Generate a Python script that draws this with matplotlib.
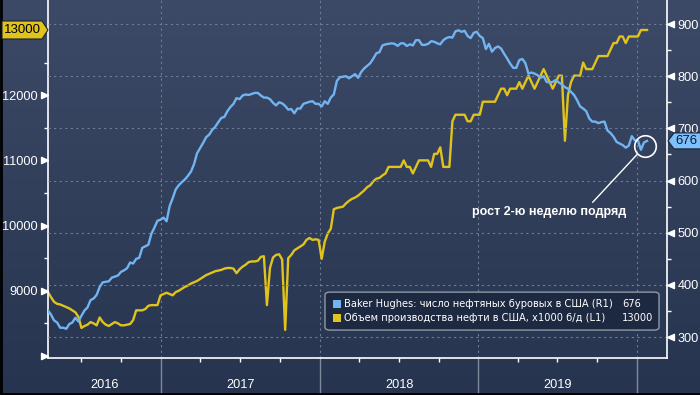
import matplotlib.pyplot as plt
import matplotlib.dates as mdates
import matplotlib.patches as mpatches
import matplotlib.transforms as mtransforms
from matplotlib.colors import LinearSegmentedColormap
from matplotlib.lines import Line2D
from matplotlib.ticker import MultipleLocator
import numpy as np
import pandas as pd

# weekly data, first week = start
start = '2016-04-15'
x_end = '2020-03-10'

# Baker Hughes: US oil rigs (right axis)
rigs = [351, 343, 332, 328, 318, 318, 316, 325, 328, 337, 330, 341, 351, 357, 371, 374,
        381, 396, 405, 406, 407, 414, 416, 418, 425, 428, 432, 443, 441, 450, 452, 471,
        474, 477, 498, 510, 523, 525,
        529, 522, 551, 566, 583, 591, 597, 602, 609, 617, 631, 652, 662, 672, 683, 688,
        697, 703, 712, 720, 722, 733, 741, 747, 758, 756, 763, 765, 764, 766, 768, 768,
        763, 759, 759, 756, 749, 744, 750, 748, 743, 736, 737, 729, 738, 738, 747, 749,
        751, 752, 747, 747,
        742, 752, 747, 759, 765, 791, 798, 799, 800, 796, 800, 804, 797, 808, 815, 820,
        825, 834, 844, 846, 859, 861, 862, 863, 862, 858, 863, 863, 858, 861, 859, 869,
        869, 860, 860, 862, 867, 866, 863, 861, 869, 873, 875, 874, 886, 888, 885, 887,
        877, 873, 883, 885,
        877, 873, 852, 862, 847, 854, 857, 853, 843, 834, 824, 816, 816, 831, 833, 825,
        805, 807, 805, 802, 797, 800, 789, 788, 789, 793, 788, 784, 779, 776, 770, 764,
        754, 742, 738, 733, 719, 713, 713, 710, 712, 713, 696, 691, 684, 674, 671, 668,
        663, 667, 685, 677,
        677, 659, 673, 676]

# US crude output, x1000 b/d (left axis)
output = [8980, 8900, 8830, 8800, 8790, 8770, 8750, 8730, 8700, 8670, 8600, 8430, 8460,
          8480, 8520, 8500, 8470, 8590, 8520, 8480, 8460, 8490, 8520, 8500, 8470, 8470,
          8480, 8490, 8550, 8700, 8700, 8700, 8720, 8770, 8780, 8780, 8780, 8930, 8950,
          8970, 8950, 8930, 8980, 9000, 9030, 9060, 9080, 9110, 9130, 9150, 9180, 9210,
          9240, 9260, 9280, 9300, 9310, 9320, 9340, 9350, 9350, 9340, 9270, 9330, 9370,
          9400, 9440, 9450, 9450, 9460, 9520, 9530, 8780, 9350, 9510, 9550, 9560, 9480,
          8400, 9500, 9550, 9620, 9650, 9680, 9710, 9780, 9810, 9780, 9790, 9780, 9490,
          9750, 9880, 9950, 10250, 10270, 10280, 10290, 10340, 10380, 10410, 10430, 10460,
          10500, 10540, 10590, 10620, 10680, 10720, 10730, 10770, 10800, 10900, 10900,
          10900, 10900, 10900, 11000, 10900, 10900, 10800, 10900, 11000, 11000, 11000,
          11000, 10900, 11100, 11100, 11200, 10900, 10900, 10900, 11600, 11700, 11700,
          11700, 11700, 11600, 11600, 11700, 11700, 11700, 11900, 11900, 11900, 11900,
          11900, 12000, 12100, 12100, 12000, 12100, 12100, 12100, 12200, 12100, 12200,
          12300, 12200, 12100, 12200, 12300, 12400, 12300, 12200, 12100, 12200, 12300,
          12300, 11300, 12000, 12200, 12300, 12300, 12300, 12500, 12400, 12400, 12400,
          12500, 12600, 12600, 12600, 12600, 12700, 12800, 12800, 12900, 12900, 12800,
          12900, 12900, 12900, 12900, 13000, 13000, 13000]

years = [2016, 2017, 2018, 2019]
left_ticks = [8000, 9000, 10000, 11000, 12000, 13000]
left_labels = ['', '9000', '10000', '11000', '12000', '']
right_ticks = [300, 400, 500, 600, 700, 800, 900]

rig_label = 'Baker Hughes: число нефтяных буровых в США (R1)'
out_label = 'Объем производства нефти в США, x1000 б/д (L1)'
note = 'рост 2-ю неделю подряд'

dates = pd.date_range(start, periods=len(rigs), freq='7D')

plt.rcParams['font.family'] = ['Liberation Sans', 'DejaVu Sans']

BLUE = '#72b4f2'
YELLOW = '#e0c31c'
GRID = '#6e7d97'

fig = plt.figure(figsize=(7, 3.95), dpi=100)

# background gradient
bg = fig.add_axes([0, 0, 1, 1], zorder=-5)
cmap = LinearSegmentedColormap.from_list('bg', ['#27344f', '#3c4a67'])
bg.imshow(np.linspace(0, 1, 256).reshape(-1, 1), aspect='auto', cmap=cmap,
          extent=[0, 1, 0, 1], origin='lower')
bg.set_xlim(0, 1)
bg.set_ylim(0, 1)
bg.axis('off')

ax = fig.add_axes([48 / 700, 37 / 395, 619 / 700, 358 / 395])
ax.set_facecolor('none')
ax.plot(dates, output, color=YELLOW, lw=1.7)
ax.set_xlim(pd.Timestamp(start), pd.Timestamp(x_end))
ax.set_ylim(7969, 13460)

ax2 = ax.twinx()
ax2.plot(dates, rigs, color=BLUE, lw=1.7)
ax2.set_ylim(260, 946)

for s in ['top', 'right']:
    ax.spines[s].set_visible(False)
for s in ['top', 'left', 'bottom']:
    ax2.spines[s].set_visible(False)
for sp in [ax.spines['left'], ax.spines['bottom'], ax2.spines['right']]:
    sp.set_color('white')
    sp.set_linewidth(1.2)

# y ticks
ax.set_yticks(left_ticks)
ax.set_yticklabels(left_labels)
ax.yaxis.set_minor_locator(MultipleLocator(500))
ax.tick_params(axis='y', which='major', length=0, pad=7.5, labelcolor='white', labelsize=9.2)
ax.tick_params(axis='y', which='minor', length=3, color='white', width=1)

ax2.set_yticks(right_ticks)
ax2.yaxis.set_minor_locator(MultipleLocator(50))
ax2.tick_params(axis='y', which='major', length=0, pad=7.5, labelcolor='white', labelsize=9.2)
ax2.tick_params(axis='y', which='minor', length=3, color='white', width=1)

# arrow tick marks
left_arrow = [(0, 0), (-1, 0.45), (-1, -0.45), (0, 0)]
right_arrow = [(0, 0), (1, 0.45), (1, -0.45), (0, 0)]
ax.plot(np.zeros(len(left_ticks)), left_ticks, ls='none', marker=left_arrow, ms=10,
        color='white', transform=ax.get_yaxis_transform(), clip_on=False)
ax2.plot(np.ones(len(right_ticks)), right_ticks, ls='none', marker=right_arrow, ms=10,
         color='white', transform=ax2.get_yaxis_transform(), clip_on=False)

# x axis: year separators + quarter ticks
ax.xaxis.set_major_locator(mdates.YearLocator())
ax.xaxis.set_minor_locator(mdates.MonthLocator(bymonth=[4, 7, 10]))
ax.xaxis.set_major_formatter(plt.NullFormatter())
ax.tick_params(axis='x', which='major', length=27, color='#808a9c', width=1)
ax.tick_params(axis='x', which='minor', length=3, color='white', width=1)

x0, x1 = [mdates.num2date(v).replace(tzinfo=None) for v in ax.get_xlim()]
for y in years:
    a = max(pd.Timestamp(f'{y}-01-01'), pd.Timestamp(x0))
    b = min(pd.Timestamp(f'{y + 1}-01-01'), pd.Timestamp(x1))
    ax.text(a + (b - a) / 2, -0.075, str(y), transform=ax.get_xaxis_transform(),
            ha='center', va='center', color='white', fontsize=9.2)

# grid
ax.grid(axis='x', which='major', color=GRID, ls=(0, (2, 3)), lw=0.8)
ax2.grid(axis='y', which='major', color=GRID, ls=(0, (2, 3)), lw=0.8)

# legend box
ax2.add_patch(mpatches.FancyBboxPatch((0.4475, 0.078), 0.5396, 0.106,
                                      boxstyle='round,pad=0,rounding_size=0.008',
                                      transform=ax2.transAxes, fc='#1d2941',
                                      ec='#8e99ab', lw=1, zorder=10))
for yy, col, lab, val in [(0.151, BLUE, rig_label, rigs[-1]),
                          (0.112, YELLOW, out_label, output[-1])]:
    ax2.add_patch(mpatches.Rectangle((0.4604, yy - 0.011), 0.0129, 0.022,
                                     transform=ax2.transAxes, fc=col, ec='none', zorder=11))
    ax2.text(0.4782, yy, lab, transform=ax2.transAxes, color='white', fontsize=7.1,
             va='center', ha='left', zorder=11, family=['DejaVu Sans'])
    ax2.text(0.927, yy, f'{val}', transform=ax2.transAxes, color='white', fontsize=7.1,
             va='center', ha='left', zorder=11, family=['DejaVu Sans'])

# annotation
mark_x = pd.Timestamp('2020-01-19')
ax2.plot([mark_x], [666], marker='o', ms=15.5, mfc='none', mec='white', mew=1.2,
         clip_on=False, zorder=8)
ax2.annotate(note, xy=(mark_x, 666), xytext=(-69, -47.5), textcoords='offset points',
             ha='center', va='center', color='white', fontweight='bold', fontsize=9,
             arrowprops=dict(arrowstyle='-', color='white', lw=1, shrinkA=1, shrinkB=8,
                             relpos=(0.76, 1.0)))

# value tags on the axes
ident = mtransforms.IdentityTransform()


def tag(axis, value, text, face, tcol, side):
    y = axis.transData.transform((axis.get_xlim()[0], value))[1]
    if side == 'left':
        xs = axis.transAxes.transform((0, 0))[0]
        verts = [(xs - 46, y - 9), (xs - 6, y - 9), (xs, y), (xs - 6, y + 9), (xs - 46, y + 9)]
        tx = xs - 26
    else:
        xs = axis.transAxes.transform((1, 0))[0] + 1
        verts = [(xs, y), (xs + 6, y - 8), (xs + 40, y - 8), (xs + 40, y + 8), (xs + 6, y + 8)]
        tx = xs + 18
    fig.add_artist(mpatches.Polygon(verts, closed=True, transform=ident, fc=face,
                                    ec='#1a2235', lw=0.8, zorder=20))
    fig.text(tx, y, text, transform=ident, ha='center', va='center', color=tcol,
             fontsize=9.5, zorder=21)


tag(ax, output[-1], f'{output[-1]}', YELLOW, 'black', 'left')
tag(ax2, rigs[-1], f'{rigs[-1]}', '#7ec0fb', '#0d1b33', 'right')

# dark frame edges
fig.add_artist(Line2D([0.0015, 0.0015], [0, 1], transform=fig.transFigure, color='black', lw=2))
fig.add_artist(Line2D([0, 1], [0.003, 0.003], transform=fig.transFigure, color='black', lw=2))

plt.savefig('out.png', dpi=100)
